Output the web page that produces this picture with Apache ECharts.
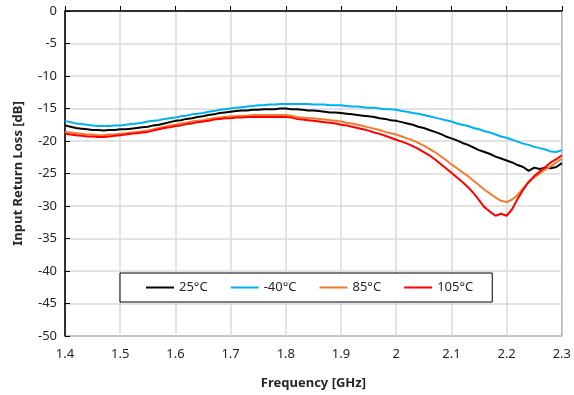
<!DOCTYPE html>
<html>
<head>
<meta charset="utf-8">
<script src="https://cdn.jsdelivr.net/npm/echarts@6/dist/echarts.min.js"></script>
<style>
  html, body { margin: 0; padding: 0; background: #fff; }
  #chart { width: 574px; height: 395px; }
</style>
</head>
<body>
<div id="chart"></div>
<script>
// Frequency sweep 1.40 .. 2.30 GHz in 10 MHz steps
const freqGHz = [
  1.40,1.41,1.42,1.43,1.44,1.45,1.46,1.47,1.48,1.49,
  1.50,1.51,1.52,1.53,1.54,1.55,1.56,1.57,1.58,1.59,
  1.60,1.61,1.62,1.63,1.64,1.65,1.66,1.67,1.68,1.69,
  1.70,1.71,1.72,1.73,1.74,1.75,1.76,1.77,1.78,1.79,
  1.80,1.81,1.82,1.83,1.84,1.85,1.86,1.87,1.88,1.89,
  1.90,1.91,1.92,1.93,1.94,1.95,1.96,1.97,1.98,1.99,
  2.00,2.01,2.02,2.03,2.04,2.05,2.06,2.07,2.08,2.09,
  2.10,2.11,2.12,2.13,2.14,2.15,2.16,2.17,2.18,2.19,
  2.20,2.21,2.22,2.23,2.24,2.25,2.26,2.27,2.28,2.29,
  2.30
];

// Input return loss [dB] per temperature
const rl25 = [
  -17.6,-17.8,-18.0,-18.1,-18.2,-18.3,-18.3,-18.4,-18.3,-18.3,
  -18.2,-18.2,-18.1,-18.0,-17.9,-17.8,-17.6,-17.5,-17.3,-17.1,
  -16.9,-16.8,-16.6,-16.5,-16.3,-16.2,-16.0,-15.9,-15.7,-15.6,
  -15.5,-15.4,-15.3,-15.3,-15.2,-15.2,-15.1,-15.1,-15.1,-15.0,
  -15.0,-15.1,-15.1,-15.2,-15.3,-15.3,-15.4,-15.5,-15.6,-15.6,
  -15.7,-15.8,-15.9,-16.0,-16.1,-16.2,-16.3,-16.5,-16.6,-16.8,
  -16.9,-17.1,-17.3,-17.5,-17.8,-18.0,-18.3,-18.6,-18.9,-19.3,
  -19.6,-19.9,-20.3,-20.6,-21.0,-21.4,-21.7,-22.0,-22.4,-22.7,
  -23.0,-23.3,-23.7,-24.0,-24.6,-24.1,-24.3,-24.1,-24.2,-24.0,
  -23.4
];

const rlM40 = [
  -16.9,-17.1,-17.3,-17.4,-17.5,-17.6,-17.7,-17.7,-17.7,-17.6,
  -17.6,-17.5,-17.4,-17.3,-17.2,-17.0,-16.9,-16.8,-16.6,-16.5,
  -16.4,-16.2,-16.1,-15.9,-15.8,-15.7,-15.5,-15.4,-15.2,-15.1,
  -15.0,-14.9,-14.8,-14.7,-14.6,-14.5,-14.5,-14.4,-14.4,-14.3,
  -14.3,-14.3,-14.3,-14.3,-14.3,-14.4,-14.4,-14.4,-14.5,-14.5,
  -14.5,-14.6,-14.7,-14.7,-14.8,-14.9,-14.9,-15.0,-15.1,-15.1,
  -15.2,-15.4,-15.5,-15.7,-15.8,-16.0,-16.2,-16.4,-16.6,-16.8,
  -17.0,-17.3,-17.5,-17.7,-18.0,-18.2,-18.5,-18.7,-19.0,-19.3,
  -19.5,-19.8,-20.1,-20.4,-20.6,-20.9,-21.1,-21.3,-21.6,-21.7,
  -21.4
];

const rl85 = [
  -18.6,-18.7,-18.8,-18.9,-19.0,-19.0,-19.1,-19.1,-19.0,-19.0,
  -18.9,-18.8,-18.7,-18.6,-18.5,-18.4,-18.2,-18.0,-17.8,-17.6,
  -17.5,-17.3,-17.2,-17.0,-16.9,-16.8,-16.6,-16.5,-16.4,-16.3,
  -16.2,-16.2,-16.1,-16.1,-16.0,-16.0,-16.0,-16.0,-16.0,-16.0,
  -16.0,-16.1,-16.3,-16.4,-16.5,-16.5,-16.6,-16.7,-16.8,-16.9,
  -17.0,-17.2,-17.3,-17.5,-17.7,-17.9,-18.1,-18.3,-18.6,-18.8,
  -19.0,-19.3,-19.6,-19.9,-20.3,-20.7,-21.2,-21.7,-22.3,-22.9,
  -23.6,-24.2,-24.8,-25.4,-26.1,-26.8,-27.5,-28.1,-28.7,-29.2,
  -29.4,-29.0,-28.3,-27.3,-26.3,-25.6,-25.0,-24.4,-23.9,-23.3,
  -22.7
];

const rl105 = [
  -18.9,-19.0,-19.1,-19.2,-19.3,-19.3,-19.4,-19.4,-19.3,-19.2,
  -19.1,-19.0,-18.9,-18.8,-18.7,-18.6,-18.4,-18.2,-18.0,-17.9,
  -17.7,-17.6,-17.4,-17.3,-17.1,-17.0,-16.9,-16.7,-16.6,-16.5,
  -16.5,-16.4,-16.4,-16.3,-16.3,-16.3,-16.3,-16.3,-16.3,-16.3,
  -16.3,-16.4,-16.6,-16.7,-16.8,-16.9,-17.0,-17.1,-17.2,-17.3,
  -17.5,-17.6,-17.8,-18.0,-18.2,-18.4,-18.7,-18.9,-19.2,-19.5,
  -19.8,-20.1,-20.4,-20.8,-21.2,-21.7,-22.2,-22.8,-23.5,-24.2,
  -24.9,-25.6,-26.3,-27.1,-28.0,-29.1,-30.2,-30.9,-31.5,-31.2,
  -31.5,-30.5,-28.9,-27.5,-26.3,-25.4,-24.7,-24.0,-23.3,-22.8,
  -22.2
];

const seriesNames = ['25°C', '-40°C', '85°C', '105°C'];
const seriesColors = ['#000000', '#00B0F0', '#ED7D31', '#FF0000'];
const seriesValues = [rl25, rlM40, rl85, rl105];

const xTicks = { min: 1.4, max: 2.3, step: 0.1 };
const yTicks = { min: -50, max: 0, step: 5 };

const FONT = '"Noto Sans", "Noto Sans CJK KR", sans-serif';
const TXT = '#262626';

const chart = echarts.init(document.getElementById('chart'), null, { renderer: 'canvas' });

const series = seriesValues.map((vals, i) => ({
  name: seriesNames[i],
  type: 'line',
  symbol: 'none',
  smooth: false,
  data: freqGHz.map((f, k) => [f, vals[k]]),
  lineStyle: { color: seriesColors[i], width: 2 },
  itemStyle: { color: seriesColors[i] },
  z: 3 + i,
  animation: false
}));

chart.setOption({
  animation: false,
  backgroundColor: '#ffffff',
  textStyle: { fontFamily: FONT },
  grid: {
    left: 65, right: 9, top: 11, bottom: 57,
    show: true, borderColor: '#000', borderWidth: 1, backgroundColor: 'transparent'
  },
  legend: {
    data: seriesNames,
    left: 120, top: 273,
    orient: 'horizontal',
    itemWidth: 28, itemHeight: 12, itemGap: 23,
    padding: [8, 19, 8, 26],
    borderColor: '#000', borderWidth: 1,
    backgroundColor: '#fff',
    textStyle: { fontFamily: FONT, fontSize: 13, color: TXT },
    icon: 'path://M0,5 L28,5 L28,7 L0,7 Z'
  },
  xAxis: {
    type: 'value',
    min: xTicks.min, max: xTicks.max, interval: xTicks.step,
    name: 'Frequency [GHz]',
    nameLocation: 'middle', nameGap: 41,
    nameTextStyle: { fontFamily: FONT, fontSize: 13, fontWeight: 'bold', color: TXT },
    axisLine: { show: true, lineStyle: { color: '#000', width: 1.5 } },
    axisTick: { show: true, inside: true, length: 5, lineStyle: { color: '#000', width: 1 } },
    axisLabel: {
      fontFamily: FONT, fontSize: 13, color: TXT, margin: 12,
      formatter: v => String(Number(v.toFixed(1)))
    },
    splitLine: { show: true, lineStyle: { color: '#d9d9d9', width: 1.5 } }
  },
  yAxis: {
    type: 'value',
    min: yTicks.min, max: yTicks.max, interval: yTicks.step,
    name: 'Input Return Loss [dB]',
    nameLocation: 'middle', nameGap: 40,
    nameTextStyle: { fontFamily: FONT, fontSize: 13, fontWeight: 'bold', color: TXT },
    axisLine: { show: true, lineStyle: { color: '#000', width: 1.5 } },
    axisTick: { show: true, inside: true, length: 5, lineStyle: { color: '#000', width: 1 } },
    axisLabel: { fontFamily: FONT, fontSize: 13, color: TXT, margin: 8 },
    splitLine: { show: true, lineStyle: { color: '#d9d9d9', width: 1.5 } }
  },
  series: series
});
</script>
</body>
</html>
